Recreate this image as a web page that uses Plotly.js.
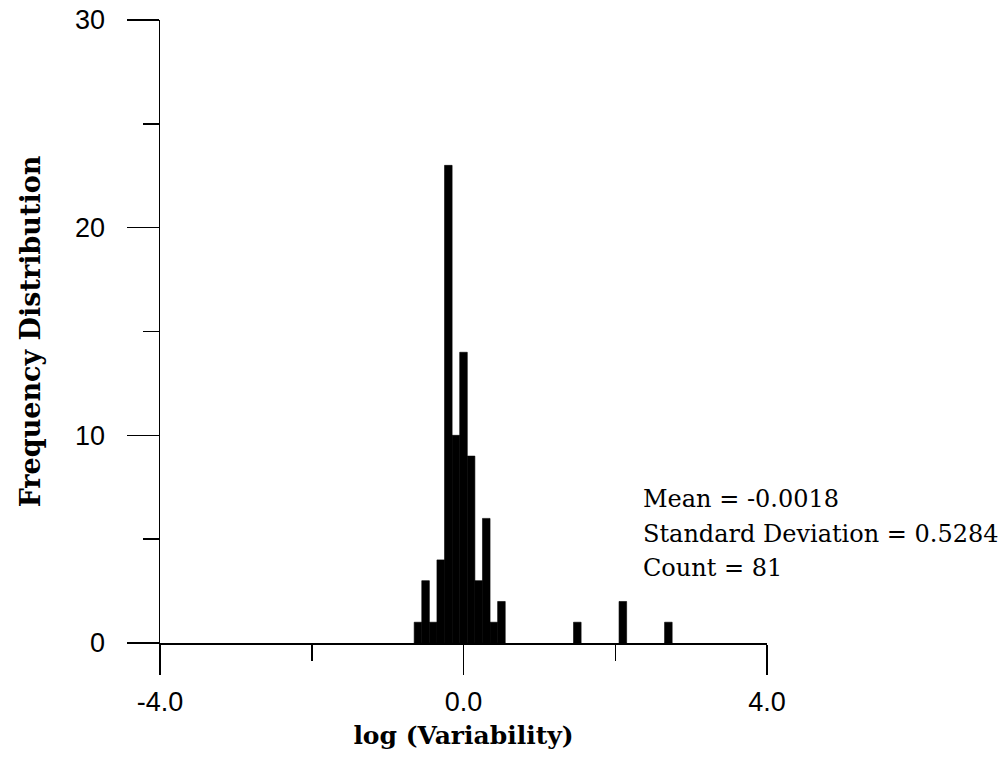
<!DOCTYPE html>
<html>
<head>
<meta charset="utf-8">
<script src="https://cdn.plot.ly/plotly-3.0.1.min.js"></script>
<style>html,body{margin:0;padding:0;background:#fff;}#chart{width:1001px;height:762px;}</style>
</head>
<body>
<div id="chart"></div>
<script>
// bin centres of log(Variability) and their frequencies
var binCenters = [-0.6, -0.5, -0.4, -0.3, -0.2, -0.1, 0.0, 0.1, 0.2, 0.3, 0.4, 0.5, 1.5, 2.1, 2.7];
var counts     = [1, 3, 1, 4, 23, 10, 14, 9, 3, 6, 1, 2, 1, 2, 1];
var binWidth = 0.1;
var xTickVals = [-4, 0, 4];
var xTickText = ['-4.0', '0.0', '4.0'];
var yTickVals = [0, 10, 20, 30];
var yTickText = ['0', '10', '20', '30'];
var statLines = ["Mean = -0.0018", "Standard Deviation = 0.5284", "Count = 81"];

var trace = {
  type: 'bar',
  x: binCenters,
  y: counts,
  width: binWidth,
  marker: {color: '#000', line: {color: '#000', width: 0.6}},
  hoverinfo: 'x+y'
};

var statY = [6.93, 5.25, 3.61];
var annotations = statLines.map(function (t, i) {
  return {
    text: t, xref: 'x', yref: 'y', x: 2.34, y: statY[i],
    xanchor: 'left', yanchor: 'middle', showarrow: false,
    font: {family: 'DejaVu Serif', size: 24, color: '#000'}
  };
});

var layout = {
  width: 1001, height: 762,
  margin: {l: 160, r: 234, t: 20, b: 119},
  paper_bgcolor: '#fff', plot_bgcolor: '#fff',
  showlegend: false,
  bargap: 0,
  xaxis: {
    range: [-4, 4], tickmode: 'array', tickvals: xTickVals, ticktext: xTickText,
    ticks: 'outside', ticklen: 30, tickwidth: 1.5, tickcolor: '#000',
    minor: {tickmode: 'linear', tick0: -4, dtick: 2, ticks: 'outside', ticklen: 16, tickwidth: 1.5, tickcolor: '#000'},
    showline: true, linecolor: '#000', linewidth: 1.5, zeroline: false, showgrid: false,
    ticklabelstandoff: 4,
    tickfont: {family: 'Liberation Sans', size: 27, color: '#000'},
    title: {text: 'log (Variability)', standoff: 10,
            font: {family: 'DejaVu Serif', size: 25, color: '#000', weight: 'bold'}}
  },
  yaxis: {
    range: [0, 30], tickmode: 'array', tickvals: yTickVals, ticktext: yTickText,
    ticks: 'outside', ticklen: 32, tickwidth: 1.5, tickcolor: '#000',
    minor: {tickmode: 'linear', tick0: 0, dtick: 5, ticks: 'outside', ticklen: 16, tickwidth: 1.5, tickcolor: '#000'},
    showline: true, linecolor: '#000', linewidth: 1.5, zeroline: false, showgrid: false,
    ticklabelstandoff: 16,
    tickfont: {family: 'Liberation Sans', size: 27, color: '#000'},
    title: {text: 'Frequency Distribution', standoff: 26,
            font: {family: 'DejaVu Serif', size: 27, color: '#000', weight: 'bold'}}
  },
  annotations: annotations
};

Plotly.newPlot('chart', [trace], layout, {displayModeBar: false, staticPlot: true});
</script>
</body>
</html>
